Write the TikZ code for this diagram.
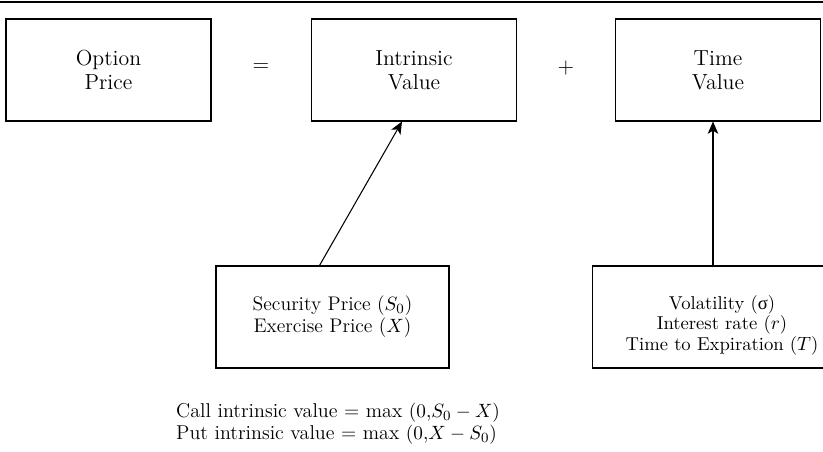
\documentclass[tikz,border=0pt]{standalone}
\usepackage{amsmath}
\usepackage{fontspec}
\newfontfamily\greekfont{Liberation Serif}
\usepackage{tikz}
\usetikzlibrary{arrows.meta,positioning,calc}
\tikzset{
    valbox/.style={rectangle, draw=black, line width=0.6pt, minimum width=4.1cm, minimum height=2.04cm, align=center, font=\fontsize{12.4}{13.8}\selectfont},
    factbox/.style={rectangle, draw=black, line width=0.6pt, minimum height=2.04cm, align=center, font=\fontsize{11.2}{12.6}\selectfont},
    opsign/.style={font=\fontsize{12.4}{13.8}\selectfont},
    link/.style={-{Stealth[length=7pt, width=6pt, inset=1.8pt]}, line width=0.6pt},
    formula/.style={anchor=west, align=left, font=\fontsize{11.4}{12.6}\selectfont},
}
\begin{document}
\begin{tikzpicture}[x=0.02cm, y=-0.02cm]
    \useasboundingbox (0,0) rectangle (823,451);
    \clip (0,0) rectangle (823,451);
    \draw[line width=0.8pt] (0,2) -- (823,2);

    % Top row
    \node[valbox] (opt) at (108.5,70) {Option\\Price};
    \node[opsign] (eqsign) at (261,68) {=};
    \node[valbox] (intr) at (414,70) {Intrinsic\\Value};
    \node[opsign] (plussign) at (566,68) {+};
    \node[valbox] (timev) at (718,70) {Time\\Value};

    % Factors
    \node[factbox, minimum width=4.66cm] (sec) at (332.5,317) {Security Price ($S_0$)\\Exercise Price ($X$)};
    \node[factbox, minimum width=5.6cm,
          label={[xshift=-0.2cm, yshift=-0.16cm, align=center, font=\fontsize{10.6}{11.6}\selectfont]center:{Volatility ({\greekfont σ})\\Interest rate ($r$)\\Time to Expiration ($T$)}}]
          (fac) at (732,317) {};

    \draw[link] ($(sec.north)+(-13,0)$) -- ($(intr.south)+(-12,0)$);
    \draw[link] ($(fac.north)+(-19,0)$) -- ($(timev.south)+(-5,0)$);

    \node[formula] (payoff) at (170,424) {Call intrinsic value = max $(0{,}S_0 - X)$\\Put intrinsic value = max $(0{,}X - S_0)$};
\end{tikzpicture}
\end{document}
